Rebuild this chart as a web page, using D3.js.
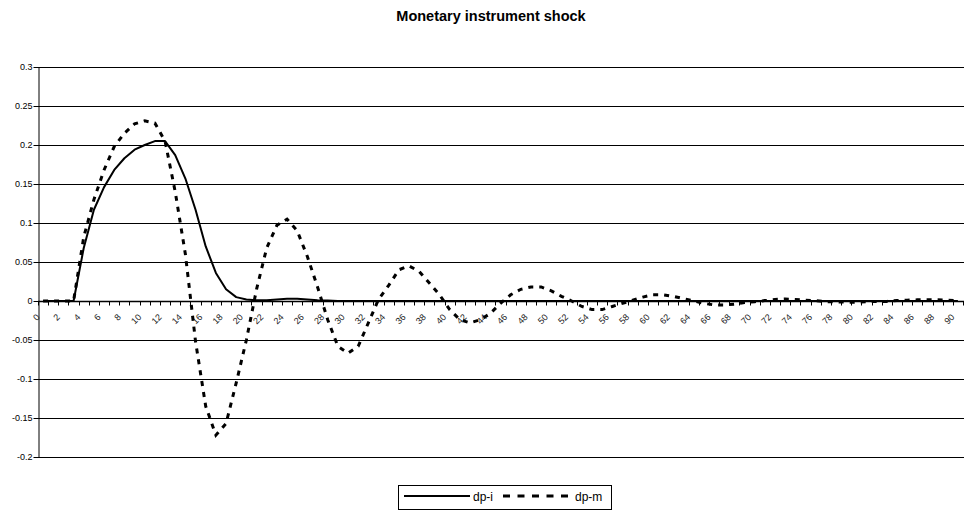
<!DOCTYPE html>
<html>
<head>
<meta charset="utf-8">
<title>Monetary instrument shock</title>
<style>
  body { margin: 0; background: #fff; }
  text { font-family: "Liberation Sans", Arial, sans-serif; fill: #000; }
</style>
</head>
<body>
<script src="https://cdn.jsdelivr.net/npm/d3@7"></script>
<script>
// periods 0..90
var categories = d3.range(0, 91);

// response of dp-i (solid)
var dpi = [0, 0, 0, 0, 0.068, 0.117, 0.146, 0.168, 0.183, 0.194,
           0.200, 0.205, 0.205, 0.187, 0.157, 0.117, 0.070, 0.036, 0.015, 0.005,
           0.002, 0.001, 0.001, 0.002, 0.003, 0.003, 0.002, 0.001, 0.0005, 0,
           0, 0, 0, 0, 0, 0, 0, 0, 0, 0,
           0, 0, 0, 0, 0, 0, 0, 0, 0, 0,
           0, 0, 0, 0, 0, 0, 0, 0, 0, 0,
           0, 0, 0, 0, 0, 0, 0, 0, 0, 0,
           0, 0, 0, 0, 0, 0, 0, 0, 0, 0,
           0, 0, 0, 0, 0, 0, 0, 0, 0, 0,
           0];

// response of dp-m (dashed)
var dpm = [0, 0, 0, 0, 0.082, 0.130, 0.168, 0.198, 0.215, 0.227,
           0.231, 0.228, 0.205, 0.140, 0.060, -0.052, -0.135, -0.172, -0.157, -0.105,
           -0.050, 0.015, 0.068, 0.097, 0.105, 0.090, 0.057, 0.018, -0.024, -0.058,
           -0.067, -0.058, -0.028, 0.002, 0.020, 0.040, 0.045, 0.038, 0.023, 0.008,
           -0.011, -0.024, -0.028, -0.024, -0.016, -0.003, 0.008, 0.015, 0.018, 0.018,
           0.013, 0.006, 0.0, -0.007, -0.011, -0.011, -0.007, -0.003, 0.001, 0.005,
           0.008, 0.008, 0.006, 0.003, 0.0, -0.003, -0.005, -0.005, -0.004, -0.002,
           -0.001, 0.0005, 0.002, 0.0025, 0.002, 0.001, 0.0005, -0.001, -0.001, -0.0015,
           -0.0015, -0.001, -0.0005, -0.0005, 0.0005, 0.001, 0.0015, 0.0015, 0.0015, 0.001,
           0.0005];

var yTicks = [-0.2, -0.15, -0.1, -0.05, 0, 0.05, 0.1, 0.15, 0.2, 0.25, 0.3];
var seriesNames = ["dp-i", "dp-m"];

var W = 964, H = 512;
// plot box (note: "top" is a reserved window property, so use other names)
var plotLeft = 38, plotRight = 963, plotTop = 67, plotBottom = 457;

var svg = d3.select("body").append("svg")
    .attr("width", W)
    .attr("height", H);

var x = d3.scaleBand().domain(categories).range([plotLeft, plotRight]).padding(0);
var y = d3.scaleLinear().domain([-0.2, 0.3]).range([plotBottom, plotTop]);

// title
svg.append("text")
    .attr("x", 491)
    .attr("y", 21)
    .attr("text-anchor", "middle")
    .attr("font-size", 14.5)
    .attr("font-weight", "bold")
    .text("Monetary instrument shock");

// gridlines
svg.append("g")
    .selectAll("line")
    .data(yTicks)
    .enter().append("line")
    .attr("x1", plotLeft)
    .attr("x2", plotRight + 1)
    .attr("y1", function(d) { return Math.round(y(d)) + 0.5; })
    .attr("y2", function(d) { return Math.round(y(d)) + 0.5; })
    .style("stroke", "#000")
    .style("stroke-width", 1);

// y axis
var yAxis = svg.append("g")
    .attr("transform", "translate(" + (plotLeft + 0.5) + ",0)")
    .call(d3.axisLeft(y).tickValues(yTicks).tickSize(5).tickSizeOuter(0)
        .tickFormat(function(d) { return String(+d.toFixed(2)); }));
yAxis.select(".domain").attr("stroke", "#000");
yAxis.selectAll(".tick line").attr("stroke", "#000");
yAxis.selectAll(".tick text")
    .attr("x", -6)
    .style("font-family", "'Liberation Sans', Arial, sans-serif")
    .style("font-size", "9px")
    .style("fill", "#000");

// x axis at zero, ticks between categories
var y0 = Math.round(y(0)) + 0.5;
svg.append("line")
    .attr("x1", plotLeft).attr("x2", plotRight + 1)
    .attr("y1", y0).attr("y2", y0)
    .style("stroke", "#000").style("stroke-width", 1.5);

svg.append("g")
    .selectAll("line")
    .data(categories.concat([91]))
    .enter().append("line")
    .attr("x1", function(d) { return Math.round(plotLeft + d * x.step()) + 0.5; })
    .attr("x2", function(d) { return Math.round(plotLeft + d * x.step()) + 0.5; })
    .attr("y1", y0)
    .attr("y2", y0 + 4)
    .style("stroke", "#000");

// rotated category labels, every second period
svg.append("g")
    .selectAll("text")
    .data(categories.filter(function(d) { return d % 2 === 0; }))
    .enter().append("text")
    .each(function(d) {
        var tx = x(d) + x.bandwidth() / 2 - 5,
            ty = y0 + 14;
        d3.select(this)
            .attr("x", tx)
            .attr("y", ty)
            .attr("transform", "rotate(-45 " + tx + " " + ty + ")");
    })
    .attr("text-anchor", "end")
    .attr("dy", "0.35em")
    .style("font-size", "9px")
    .style("fill", "#222")
    .text(function(d) { return d; });

// lines
var line = d3.line()
    .x(function(d, i) { return x(categories[i]) + x.bandwidth() / 2; })
    .y(function(d) { return y(d); });

svg.append("path")
    .datum(dpi)
    .attr("d", line)
    .style("fill", "none")
    .style("stroke", "#000")
    .style("stroke-width", 2)
    .style("stroke-linejoin", "round");

svg.append("path")
    .datum(dpm)
    .attr("d", line)
    .style("fill", "none")
    .style("stroke", "#000")
    .style("stroke-width", 3)
    .style("stroke-dasharray", "5,6");

// legend
var legend = svg.append("g");
legend.append("rect")
    .attr("x", 398.5).attr("y", 485.5)
    .attr("width", 213).attr("height", 24)
    .style("fill", "#fff").style("stroke", "#000");

legend.append("line")
    .attr("x1", 404).attr("x2", 470).attr("y1", 496).attr("y2", 496)
    .style("stroke", "#000").style("stroke-width", 2);
legend.append("text")
    .attr("x", 473).attr("y", 501)
    .attr("font-size", 12)
    .text(seriesNames[0]);

legend.append("line")
    .attr("x1", 503).attr("x2", 571).attr("y1", 496).attr("y2", 496)
    .style("stroke", "#000").style("stroke-width", 3)
    .style("stroke-dasharray", "7,7.5");
legend.append("text")
    .attr("x", 575).attr("y", 501)
    .attr("font-size", 12)
    .text(seriesNames[1]);
</script>
</body>
</html>
